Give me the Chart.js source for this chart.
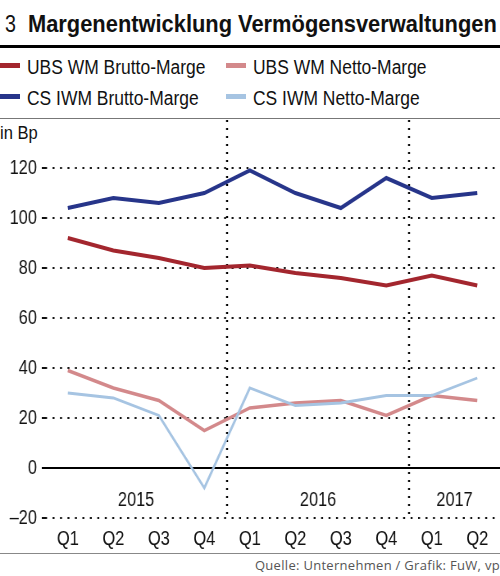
<!DOCTYPE html>
<html>
<head>
<meta charset="utf-8">
<script src="https://cdn.jsdelivr.net/npm/chart.js@4"></script>
<style>
  body { margin: 0; background: #fff; }
  #wrap { position: relative; width: 500px; height: 576px; overflow: hidden; background: #fff;
          font-family: "Liberation Sans", Arial, sans-serif; color: #111; }
  .abs { position: absolute; white-space: nowrap; }
  .fit { transform-origin: 0 0; }
  .num { left: 5px; top: 12px; font-size: 24px; line-height: 24px; transform: scaleX(0.82); transform-origin: 0 0; }
  .title { left: 28px; top: 12px; font-size: 24px; line-height: 24px; font-weight: bold; }
  .rule { left: 0; width: 500px; }
  .sw { width: 20px; height: 5px; }
  .leg { font-size: 20px; line-height: 20px; }
  .unit { left: 0; top: 123px; font-size: 19px; line-height: 20px; }
  .src { right: 0; top: 557px; font-size: 13px; line-height: 16px; color: #555; letter-spacing: 0.3px;
         font-family: "Open Sans", "Noto Sans", sans-serif; }
  #chartBox { position: absolute; left: 0; top: 118px; width: 610px; height: 435px;
              transform: scaleX(0.8197); transform-origin: 0 0; }
</style>
</head>
<body>
<div id="wrap">
  <div class="abs num">3</div>
  <div class="abs title fit" id="title">Margenentwicklung Vermögensverwaltungen</div>
  <div class="abs rule" style="top:45px;height:3px;background:#000"></div>
  <div id="legend"></div>
  <div class="abs rule" style="top:118px;height:1px;background:#777"></div>
  <div class="abs unit fit" id="unit">in Bp</div>
  <div id="chartBox"><canvas id="myChart" width="610" height="435"></canvas></div>
  <div class="abs rule" style="top:553px;height:1px;background:#888"></div>
  <div class="abs src">Quelle: Unternehmen / Grafik: FuW, vp</div>
</div>
<script>
const quarters = ['Q1','Q2','Q3','Q4','Q1','Q2','Q3','Q4','Q1','Q2'];
const years = ['2015','2016','2017'];
const yearStart = [0, 4, 8];
const yearEnd = [3, 7, 9];

const ubsBrutto = [92, 87, 84, 80, 81, 78, 76, 73, 77, 73];
const ubsNetto = [39, 32, 27, 15, 24, 26, 27, 21, 29, 27];
const csBrutto = [104, 108, 106, 110, 119, 110, 104, 116, 108, 110];
const csNetto = [30, 28, 21, -8, 32, 25, 26, 29, 29, 36];

const seriesNames = ['UBS WM Brutto-Marge', 'UBS WM Netto-Marge', 'CS IWM Brutto-Marge', 'CS IWM Netto-Marge'];
const seriesColors = ['#a3262e', '#d3898b', '#27358a', '#a6c4e2'];
const seriesWidths = [4, 3.5, 4, 2.8];
const seriesData = [ubsBrutto, ubsNetto, csBrutto, csNetto];

const fontFamily = '"Liberation Sans", Arial, sans-serif';

// legend, 2 columns
const legendPos = [[0, 57], [226, 57], [0, 88], [226, 88]];
let legHtml = '';
seriesNames.forEach((name, i) => {
  let p = legendPos[i];
  legHtml += '<div class="abs sw" style="left:' + p[0] + 'px;top:' + (p[1] + 6) + 'px;background:' + seriesColors[i] + '"></div>';
  legHtml += '<div class="abs leg fit" style="left:' + (p[0] + 27) + 'px;top:' + p[1] + 'px">' + name + '</div>';
});
document.getElementById('legend').innerHTML = legHtml;

// squeeze the text to the condensed widths of the original
const titleEl = document.getElementById('title');
titleEl.style.transform = 'scaleX(' + (469 / titleEl.offsetWidth) + ')';
const legEls = document.querySelectorAll('.leg');
const legScale = 178 / legEls[0].offsetWidth;
legEls.forEach(el => { el.style.transform = 'scaleX(' + legScale + ')'; });
document.getElementById('unit').style.transform = 'scaleX(' + legScale + ')';

// year dividers, zero line and year labels
const yearPlugin = {
  id: 'years',
  beforeDatasetsDraw(chart) {
    const ctx = chart.ctx;
    const xs = chart.scales.x;
    const ys = chart.scales.y;
    const area = chart.chartArea;
    ctx.save();
    ctx.strokeStyle = '#000';
    ctx.lineWidth = 2;
    ctx.setLineDash([]);
    ctx.beginPath();
    ctx.moveTo(area.left - 4, ys.getPixelForValue(0));
    ctx.lineTo(area.right, ys.getPixelForValue(0));
    ctx.stroke();
    ctx.lineWidth = 2.4;
    ctx.setLineDash([2, 6]);
    for (let k = 1; k < yearStart.length; k++) {
      let x = (xs.getPixelForValue(yearStart[k] - 1) + xs.getPixelForValue(yearStart[k])) / 2;
      ctx.beginPath();
      ctx.moveTo(x, area.top + 2);
      ctx.lineTo(x, area.bottom);
      ctx.stroke();
    }
    ctx.fillStyle = '#111';
    ctx.font = '20px ' + fontFamily;
    ctx.textAlign = 'center';
    ctx.textBaseline = 'middle';
    years.forEach((yr, k) => {
      let x = (xs.getPixelForValue(yearStart[k]) + xs.getPixelForValue(yearEnd[k])) / 2;
      ctx.fillText(yr, x, ys.getPixelForValue(-13));
    });
    ctx.restore();
  }
};

const ctx = document.getElementById('myChart').getContext('2d');
const myChart = new Chart(ctx, {
  type: 'line',
  data: {
    labels: quarters,
    datasets: seriesData.map((d, i) => ({
      label: seriesNames[i],
      data: d,
      borderColor: seriesColors[i],
      backgroundColor: seriesColors[i],
      borderWidth: seriesWidths[i],
      pointRadius: 0,
      tension: 0
    })).reverse()
  },
  options: {
    responsive: false,
    animation: false,
    devicePixelRatio: 1,
    layout: { padding: 0 },
    plugins: { legend: { display: false }, tooltip: { enabled: false }, title: { display: false } },
    scales: {
      x: {
        type: 'category',
        offset: true,
        grid: { display: false },
        border: { display: false },
        ticks: { color: '#111', font: { family: fontFamily, size: 20 }, padding: 1, maxRotation: 0, autoSkip: false },
        afterFit(scale) { scale.height = 35; scale.paddingLeft = 0; scale.paddingRight = 0; }
      },
      y: {
        min: -20,
        max: 140,
        border: { display: false, dash: [2.4, 6.7] },
        grid: {
          color: c => (c.tick && (c.tick.value === 0 || c.tick.value === 140)) ? 'rgba(0,0,0,0)' : '#111',
          lineWidth: 2,
          drawTicks: true,
          tickLength: 4
        },
        ticks: {
          stepSize: 20,
          color: '#111',
          padding: 6,
          font: { family: fontFamily, size: 20 },
          callback: v => v === 140 ? '' : (v < 0 ? '\u2013' + Math.abs(v) : String(v))
        },
        afterFit(scale) { scale.width = 55; scale.paddingTop = 0; scale.paddingBottom = 0; }
      }
    }
  },
  plugins: [yearPlugin]
});
</script>
</body>
</html>
